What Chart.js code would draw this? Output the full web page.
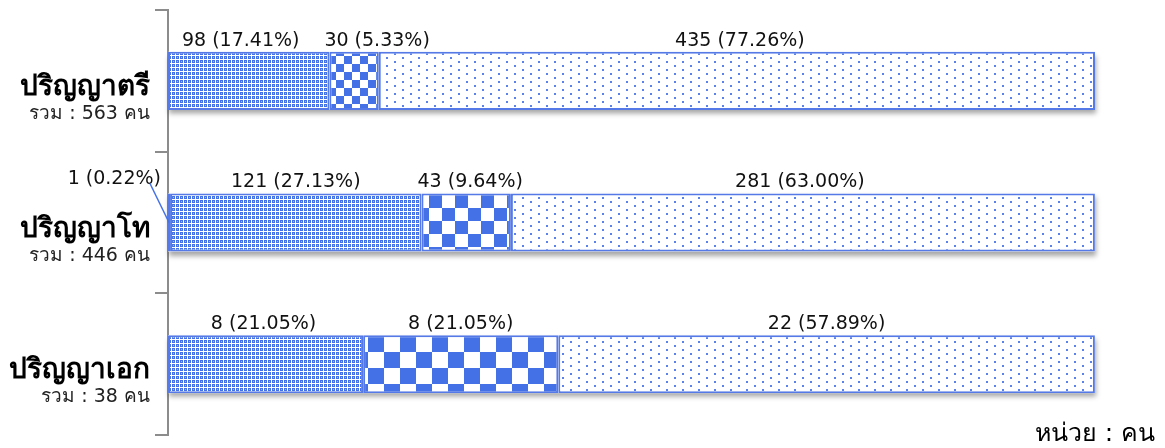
<!DOCTYPE html>
<html>
<head>
<meta charset="utf-8">
<script src="https://cdn.jsdelivr.net/npm/chart.js@4/dist/chart.umd.min.js"></script>
<style>
  html, body { margin: 0; padding: 0; background: #fff; }
  #wrap { width: 1165px; height: 448px; }
</style>
</head>
<body>
<div id="wrap"><canvas id="chart"></canvas></div>
<script>
// Degree levels and totals
const LEVELS = ["ปริญญาตรี", "ปริญญาโท", "ปริญญาเอก"];
const TOTALS = [563, 446, 38];

// Counts per segment (left to right)
const COUNT_A = [0, 1, 0];
const COUNT_B = [98, 121, 8];
const COUNT_C = [30, 43, 8];
const COUNT_D = [435, 281, 22];

// Percentages as printed on the chart
const PCT_A = [0, 0.22, 0];
const PCT_B = [17.41, 27.13, 21.05];
const PCT_C = [5.33, 9.64, 21.05];
const PCT_D = [77.26, 63.00, 57.89];

const UNIT_LABEL = "หน่วย : คน";

const BLUE = "#4472e6";
const FONT = "Tahoma, 'DejaVu Sans', 'Noto Sans', sans-serif";

// ---- Pattern fills ----
function makePattern(w, h, draw) {
    const c = document.createElement("canvas");
    c.width = w; c.height = h;
    const g = c.getContext("2d");
    draw(g);
    return document.getElementById("chart").getContext("2d").createPattern(c, "repeat");
}

const fineHatch = makePattern(4, 4, (g) => {
    g.fillStyle = BLUE;
    g.fillRect(0, 0, 4, 4);
    g.fillStyle = "#ffffff";
    g.fillRect(0, 3, 4, 1);
    g.fillRect(3, 0, 1, 4);
    g.fillStyle = "#9fb6f0";
    g.fillRect(1, 1, 1, 1);
});

// checker cells look stretched with the segment in the original
function checker(cell) {
    return makePattern(cell * 2, cell * 2, (g) => {
        g.fillStyle = "#ffffff";
        g.fillRect(0, 0, cell * 2, cell * 2);
        g.fillStyle = BLUE;
        g.fillRect(0, 0, cell, cell);
        g.fillRect(cell, cell, cell, cell);
    });
}
const CHECKERS = [checker(8), checker(13), checker(16)];

const dots = makePattern(16, 8, (g) => {
    g.fillStyle = "#ffffff";
    g.fillRect(0, 0, 16, 8);
    g.fillStyle = "#5a82ea";
    g.fillRect(2, 1, 2, 2);
    g.fillRect(10, 5, 2, 2);
});

// label nudges (x) for crowded segments, by dataset then row
const LABEL_NUDGE = [[0, 0, 0], [-8, 0, -2], [23, 4, 0], [3, -3, 0]];

// ---- Shadow under each full bar ----
const barShadow = {
    id: "barShadow",
    beforeDatasetsDraw(chart) {
        const ctx = chart.ctx;
        const last = chart.getDatasetMeta(chart.data.datasets.length - 1);
        const first = chart.getDatasetMeta(0);
        ctx.save();
        ctx.shadowColor = "rgba(0,0,0,0.35)";
        ctx.shadowBlur = 5;
        ctx.shadowOffsetX = 1;
        ctx.shadowOffsetY = 4;
        ctx.fillStyle = "#ffffff";
        last.data.forEach((el, i) => {
            const left = first.data[i].base;
            const h = el.height;
            ctx.fillRect(left, el.y - h / 2, el.x - left, h);
        });
        ctx.restore();
    }
};

// ---- Value labels, category labels and unit text ----
const labelsPlugin = {
    id: "labelsPlugin",
    afterDraw(chart) {
        const ctx = chart.ctx;
        const counts = [COUNT_A, COUNT_B, COUNT_C, COUNT_D];
        const pcts = [PCT_A, PCT_B, PCT_C, PCT_D];
        ctx.save();
        ctx.fillStyle = "#111";
        ctx.font = "19px " + FONT;
        ctx.textBaseline = "alphabetic";
        ctx.textAlign = "center";

        chart.data.datasets.forEach((ds, d) => {
            const meta = chart.getDatasetMeta(d);
            meta.data.forEach((el, i) => {
                if (!counts[d][i]) return;
                const text = counts[d][i] + " (" + pcts[d][i].toFixed(2) + "%)";
                const top = el.y - el.height / 2;
                if (d === 0) {
                    // tiny segment: label off to the left with a leader line
                    ctx.textAlign = "right";
                    ctx.fillText(text, 161, top - 9);
                    ctx.strokeStyle = BLUE;
                    ctx.lineWidth = 1.5;
                    ctx.beginPath();
                    ctx.moveTo(150, top - 10);
                    ctx.lineTo(el.base + 1, el.y);
                    ctx.stroke();
                    ctx.textAlign = "center";
                    return;
                }
                const cx = (el.x + el.base) / 2 + LABEL_NUDGE[d][i];
                ctx.fillText(text, cx, top - 6);
            });
        });

        // category names on the left
        const yScale = chart.scales.y;
        ctx.textAlign = "right";
        LEVELS.forEach((name, i) => {
            const cy = yScale.getPixelForValue(i);
            ctx.font = "bold 28px " + FONT;
            ctx.fillStyle = "#000";
            ctx.fillText(name, 150, cy + 14);
            ctx.font = "19px " + FONT;
            ctx.fillStyle = "#222";
            ctx.fillText("รวม : " + TOTALS[i] + " คน", 150, cy + 38);
        });

        // unit
        ctx.font = "25px " + FONT;
        ctx.fillStyle = "#000";
        ctx.textAlign = "right";
        ctx.fillText(UNIT_LABEL, 1155, 441);
        ctx.restore();
    }
};

function segment(data, fill) {
    return {
        data: data,
        backgroundColor: fill,
        borderColor: "#5579e6",
        borderWidth: 2,
        borderSkipped: false,
        categoryPercentage: 1.0,
        barPercentage: 0.41
    };
}

new Chart(document.getElementById("chart"), {
    type: "bar",
    data: {
        labels: LEVELS,
        datasets: [
            segment(PCT_A, fineHatch),
            segment(PCT_B, fineHatch),
            segment(PCT_C, CHECKERS),
            segment(PCT_D, dots)
        ]
    },
    options: {
        indexAxis: "y",
        responsive: true,
        maintainAspectRatio: false,
        animation: false,
        layout: { padding: { top: 10, bottom: 13, right: 70, left: 0 } },
        plugins: {
            legend: { display: false },
            tooltip: { enabled: false }
        },
        scales: {
            x: {
                display: false,
                stacked: true,
                min: 0,
                max: 100
            },
            y: {
                stacked: true,
                afterFit: (s) => { s.width = 168; },
                ticks: { display: false },
                border: { display: true, color: "#8c8c8c", width: 2 },
                grid: {
                    offset: true,
                    drawOnChartArea: false,
                    drawTicks: true,
                    tickLength: 13,
                    color: "#8c8c8c",
                    lineWidth: 2
                }
            }
        }
    },
    plugins: [barShadow, labelsPlugin]
});
</script>
</body>
</html>
